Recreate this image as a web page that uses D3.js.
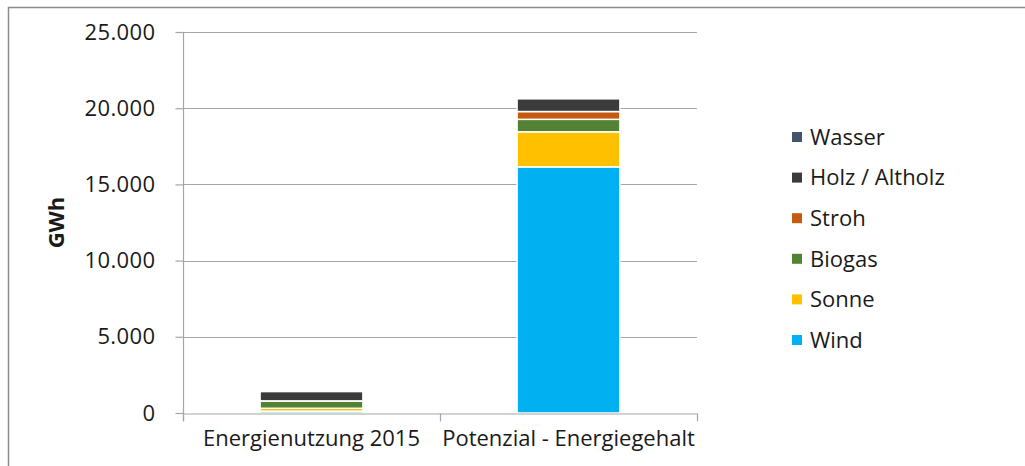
<!DOCTYPE html>
<html>
<head>
<meta charset="utf-8">
<script src="https://cdn.jsdelivr.net/npm/d3@7"></script>
<style>
  body { margin: 0; background: #fff; }
  svg { display: block; }
  svg text { font-family: "Open Sans", "Noto Sans", sans-serif; }
</style>
</head>
<body>
<svg id="chart"></svg>
<script>
// categories and series (stack order bottom -> top)
const categories = ["Energienutzung 2015", "Potenzial - Energiegehalt"];
const seriesNames = ["Wind", "Sonne", "Biogas", "Stroh", "Holz / Altholz", "Wasser"];
const wind = [120, 16150];
const sonne = [190, 2300];
const biogas = [470, 820];
const stroh = [15, 510];
const holz = [620, 850];
const wasser = [5, 10];
const yTicks = [0, 5000, 10000, 15000, 20000, 25000];

const colors = ["#00b0f0", "#ffc000", "#548235", "#c55a11", "#3b3b3b", "#44546a"];

const width = 1025, height = 466;
const svg = d3.select("#chart").attr("width", width).attr("height", height);

// outer frame (runs off the right and bottom edge)
svg.append("rect")
    .attr("x", 8.5).attr("y", 7.5)
    .attr("width", 1030).attr("height", 480)
    .attr("fill", "none")
    .attr("stroke", "#8c8c8c")
    .attr("stroke-width", 1.5);

const margin = { left: 183, right: 697, top: 32, bottom: 413 };

const rows = categories.map((c, i) => ({
    cat: c,
    "Wind": wind[i], "Sonne": sonne[i], "Biogas": biogas[i],
    "Stroh": stroh[i], "Holz / Altholz": holz[i], "Wasser": wasser[i]
}));

const x = d3.scaleBand()
    .domain(categories)
    .range([margin.left, margin.right])
    .paddingInner(0.6)
    .paddingOuter(0.3);

const y = d3.scaleLinear()
    .domain([0, 25000])
    .range([margin.bottom, margin.top]);

const color = d3.scaleOrdinal().domain(seriesNames).range(colors);

// gridlines
svg.append("g")
    .selectAll("line")
    .data(yTicks.slice(1))
    .enter().append("line")
    .attr("x1", margin.left).attr("x2", margin.right)
    .attr("y1", d => Math.round(y(d)) + 0.5).attr("y2", d => Math.round(y(d)) + 0.5)
    .attr("stroke", "#a6a6a6")
    .attr("stroke-width", 1.2);

// stacked bars
const stack = d3.stack().keys(seriesNames)(rows);
svg.append("g")
    .selectAll("g")
    .data(stack)
    .enter().append("g")
    .attr("fill", d => color(d.key))
    .selectAll("rect")
    .data(d => d)
    .enter().append("rect")
    .attr("x", d => x(d.data.cat))
    .attr("width", x.bandwidth())
    .attr("y", d => y(d[1]))
    .attr("height", d => y(d[0]) - y(d[1]))
    .attr("stroke", "#fff")
    .attr("stroke-width", 1.5);

// y axis
const fmt = d => d3.format(",")(d).replace(/,/g, ".");
const yAxis = svg.append("g")
    .attr("transform", `translate(${margin.left + 0.5},0)`)
    .call(d3.axisLeft(y).tickValues(yTicks).tickFormat(fmt).tickSize(8).tickSizeOuter(0))
    .attr("font-family", null)
    .attr("font-size", null);
yAxis.select(".domain").attr("stroke", "#a6a6a6").attr("stroke-width", 1.2)
    .attr("d", `M0,${margin.top}V${margin.bottom + 8}`);
yAxis.selectAll(".tick line").attr("stroke", "#a6a6a6").attr("stroke-width", 1.2);
yAxis.selectAll(".tick text")
    .attr("x", -28)
    .attr("fill", "#1a1a1a")
    .style("font-size", "22px")
    .style("letter-spacing", "0.4px");

// x axis
const xAxis = svg.append("g")
    .attr("transform", `translate(0,${margin.bottom + 0.5})`)
    .call(d3.axisBottom(x).tickSize(0).tickSizeOuter(0))
    .attr("font-family", null)
    .attr("font-size", null);
xAxis.select(".domain").attr("stroke", "#a6a6a6").attr("stroke-width", 1.2);
xAxis.selectAll(".tick text")
    .attr("y", 17)
    .attr("fill", "#1a1a1a")
    .style("font-size", "22px");

// category boundary ticks
const step = x.step();
const bounds = categories.map(c => x(c) + x.bandwidth() / 2 - step / 2);
bounds.push(x(categories[categories.length - 1]) + x.bandwidth() / 2 + step / 2);
xAxis.selectAll(".bound")
    .data(bounds)
    .enter().append("line")
    .attr("class", "bound")
    .attr("x1", d => Math.round(d) + 0.5).attr("x2", d => Math.round(d) + 0.5)
    .attr("y1", 0).attr("y2", 8)
    .attr("stroke", "#a6a6a6")
    .attr("stroke-width", 1.2);

// y label
svg.append("text")
    .attr("transform", `translate(64,${(margin.top + margin.bottom) / 2}) rotate(-90)`)
    .attr("text-anchor", "middle")
    .style("font-size", "22px")
    .style("font-weight", "bold")
    .attr("fill", "#1a1a1a")
    .text("GWh");

// legend (reverse order)
const legend = svg.append("g").attr("transform", "translate(792,137)");
seriesNames.slice().reverse().forEach((name, i) => {
    const row = legend.append("g").attr("transform", `translate(0,${i * 40.6})`);
    row.append("rect")
        .attr("x", 0).attr("y", -5)
        .attr("width", 10).attr("height", 10)
        .attr("fill", color(name));
    row.append("text")
        .attr("x", 18).attr("y", 0)
        .attr("dy", "0.35em")
        .attr("fill", "#1a1a1a")
        .style("font-size", "22px")
        .text(name);
});
</script>
</body>
</html>
